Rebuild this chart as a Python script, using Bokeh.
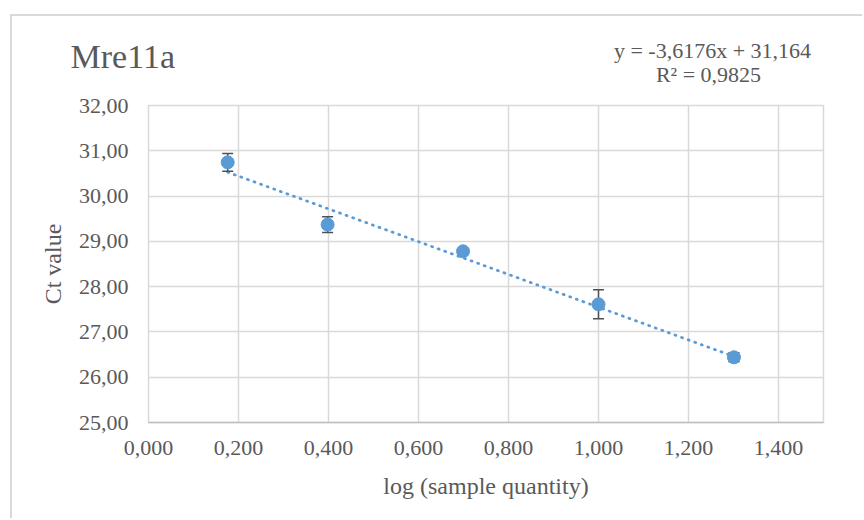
from bokeh.plotting import figure
from bokeh.models import Label, FixedTicker, ColumnDataSource, Range1d
from bokeh.embed import file_html
from bokeh.resources import INLINE

# ---------------- data ----------------
log_qty = [0.176, 0.398, 0.699, 1.000, 1.301]
ct_mean = [30.745, 29.37, 28.78, 27.61, 26.44]
ct_err = [0.195, 0.175, 0.05, 0.32, 0.10]

slope = -3.6176
intercept = 31.164

x_ticks = [0.0, 0.2, 0.4, 0.6, 0.8, 1.0, 1.2, 1.4]
x_tick_labels = ["0,000", "0,200", "0,400", "0,600", "0,800", "1,000", "1,200", "1,400"]
y_ticks = [25, 26, 27, 28, 29, 30, 31, 32]
y_tick_labels = ["25,00", "26,00", "27,00", "28,00", "29,00", "30,00", "31,00", "32,00"]

title_text = "Mre11a"
eq_line1 = "y = -3,6176x + 31,164"
eq_line2 = "R\u00b2 = 0,9825"
x_label = "log (sample quantity)"
y_label = "Ct value"

# ---------------- layout (page pixels) ----------------
W, H = 864, 520
OX, OY = 12, 16          # where the canvas starts inside the bordered chart box
FL, FT, FW, FH = 148, 105, 675, 317
X0, X1 = 0.0, 1.5
Y0, Y1 = 25.0, 32.0
DY = -11  # empirical vertical correction for labels in the side panel

FONT = "Liberation Serif"
TXT = "#595959"
BLUE = "#5b9bd5"
GRID = "#d9d9d9"


def px_x(px):
    return X0 + (px - FL) * (X1 - X0) / FW


def px_y(py):
    return Y1 - (py + DY - FT) * (Y1 - Y0) / FH


CW, CH = W - OX, H - OY
p = figure(width=CW, height=CH, output_backend="svg", toolbar_location=None,
           x_range=Range1d(X0, X1), y_range=Range1d(Y0, Y1),
           min_border_left=FL - OX, min_border_top=FT - OY,
           min_border_right=CW - (FL - OX) - FW, min_border_bottom=CH - (FT - OY) - FH)
p.styles = {"margin-left": "10px", "margin-top": "14px",
            "border-left": "2px solid #d9d9d9", "border-top": "2px solid #d9d9d9"}
p.background_fill_color = "white"
p.border_fill_color = "white"
p.outline_line_color = GRID
p.outline_line_width = 1.5

# axes
p.xaxis.ticker = FixedTicker(ticks=x_ticks)
p.yaxis.ticker = FixedTicker(ticks=y_ticks)
p.xaxis.major_label_overrides = {t: l for t, l in zip(x_ticks, x_tick_labels)}
p.yaxis.major_label_overrides = {t: l for t, l in zip(y_ticks, y_tick_labels)}
for ax in (p.xaxis, p.yaxis):
    ax.major_tick_in = 0
    ax.major_tick_out = 0
    ax.minor_tick_in = 0
    ax.minor_tick_out = 0
    ax.major_label_text_font = FONT
    ax.major_label_text_font_size = "22px"
    ax.major_label_text_color = TXT
    ax.axis_label_text_font = FONT
    ax.axis_label_text_font_size = "24px"
    ax.axis_label_text_font_style = "normal"
    ax.axis_label_text_color = TXT
p.xaxis.axis_label = x_label
p.yaxis.axis_label = y_label
p.xaxis.axis_line_color = "#bfbfbf"
p.xaxis.axis_line_width = 1.5
p.yaxis.axis_line_color = None
p.xaxis.major_label_standoff = 18
p.yaxis.major_label_standoff = 20
p.xaxis.axis_label_standoff = 15
p.yaxis.axis_label_standoff = 10

p.xgrid.ticker = FixedTicker(ticks=x_ticks)
p.ygrid.ticker = FixedTicker(ticks=y_ticks)
p.grid.grid_line_color = GRID
p.grid.grid_line_width = 1.5

# trendline
tx = [log_qty[0], log_qty[-1]]
ty = [slope * v + intercept for v in tx]
p.line(tx, ty, line_color=BLUE, line_width=2.75, line_dash="1 6", line_cap="round")

# error bars
lower = [m - e for m, e in zip(ct_mean, ct_err)]
upper = [m + e for m, e in zip(ct_mean, ct_err)]
src = ColumnDataSource(dict(x=log_qty, y=ct_mean, lo=lower, hi=upper))
ERR = "#505050"
p.segment(x0="x", y0="lo", x1="x", y1="hi", source=src, line_color=ERR, line_width=1.5)
p.scatter(x="x", y="lo", source=src, marker="dash", size=11, line_color=ERR, line_width=1.5)
p.scatter(x="x", y="hi", source=src, marker="dash", size=11, line_color=ERR, line_width=1.5)

# points
p.scatter(x="x", y="y", source=src, marker="circle", size=13,
          fill_color=BLUE, line_color=BLUE)

# texts (placed in the side panel so they are not clipped to the frame)
p.add_layout(Label(x=px_x(70), y=px_y(67), text=title_text, text_font=FONT,
                   text_font_size="34px", text_color=TXT, text_align="left",
                   text_baseline="alphabetic"), "above")
p.add_layout(Label(x=px_x(712), y=px_y(61), text=eq_line1, text_font=FONT,
                   text_font_size="22px", text_color=TXT, text_align="center",
                   text_baseline="alphabetic"), "above")
p.add_layout(Label(x=px_x(708), y=px_y(85), text=eq_line2, text_font=FONT,
                   text_font_size="22px", text_color=TXT, text_align="center",
                   text_baseline="alphabetic"), "above")

open("out.html", "w").write(file_html(p, INLINE))
